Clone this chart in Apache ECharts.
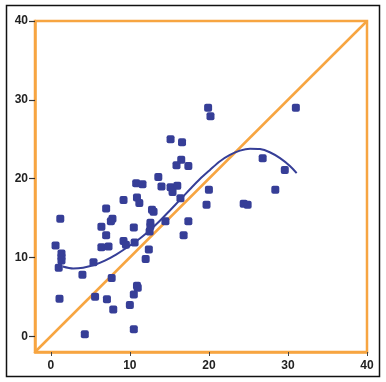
<!DOCTYPE html>
<html><head><meta charset="utf-8">
<script src="https://cdn.jsdelivr.net/npm/echarts@6/dist/echarts.min.js"></script>
<style>html,body{margin:0;padding:0;background:#fff}#c{width:386px;height:382px}</style>
</head><body><div id="c"></div>
<script>
var pointX = [19.9,20.2,31.0,15.15,16.6,26.8,29.6,16.5,15.9,17.4,13.6,10.8,11.6,14.0,15.15,16.0,15.4,20.0,28.4,9.2,10.9,11.2,16.4,19.7,24.4,24.9,7.0,12.8,13.0,1.2,7.8,7.6,14.5,17.4,6.4,12.6,12.6,10.5,7.0,12.5,16.8,0.6,6.4,7.3,9.2,9.5,10.6,12.4,1.35,1.35,1.35,1.0,12.0,5.4,4.0,7.7,1.1,5.6,7.1,7.9,10.0,10.5,10.9,11.0,10.5,4.3];
var pointY = [29.0,27.9,29.0,25.0,24.6,22.6,21.1,22.4,21.7,21.6,20.2,19.4,19.3,19.0,18.9,19.1,18.3,18.6,18.6,17.3,17.6,16.9,17.5,16.7,16.8,16.7,16.2,16.05,15.8,14.9,14.9,14.6,14.6,14.6,13.9,14.4,14.0,13.8,12.8,13.3,12.8,11.5,11.3,11.4,12.1,11.6,11.9,11.0,10.5,10.05,9.6,8.7,9.8,9.4,7.8,7.4,4.75,5.0,4.7,3.4,3.95,5.3,6.4,6.15,0.9,0.25];
var curveX = [1.5,2.83,4.09,5.36,6.84,8.31,9.79,11.27,12.53,13.8,15.06,16.33,17.6,18.86,20.13,21.4,22.66,23.92,25.2,26.46,27.7,29.0,30.25,31.1];
var curveY = [8.85,8.6,8.7,9.0,9.6,10.4,11.35,12.4,13.45,14.65,15.95,17.3,18.65,19.95,21.1,22.2,23.0,23.55,23.8,23.75,23.35,22.6,21.6,20.7];
var diagX = [-2,40];
var diagY = [-2,40];
var xTicks = [0,10,20,30,40];
var yTicks = [0,10,20,30,40];

var orange = '#f7a541', blue = '#363e97';
function zip(a,b){return a.map(function(v,i){return [v,b[i]];});}
var chart = echarts.init(document.getElementById('c'), null, {renderer:'canvas'});
chart.setOption({
  animation:false,
  grid:{left:35,right:19,top:21,bottom:30,show:true,borderColor:orange,borderWidth:2.5,backgroundColor:'transparent'},
  graphic:[{type:'rect',shape:{x:6.5,y:5.5,width:373,height:371},style:{fill:'none',stroke:'#111',lineWidth:1.5},z:-1}],
  xAxis:{type:'value',min:-2,max:40,interval:2,
    axisLine:{show:true,onZero:false,lineStyle:{color:orange,width:2.5}},
    splitLine:{show:false},
    axisTick:{show:true,length:4,lineStyle:{color:'#444'},customValues:xTicks},
    axisLabel:{customValues:xTicks,color:'#222',fontWeight:'bold',fontSize:12,fontFamily:'Liberation Sans',margin:8}
  },
  yAxis:{type:'value',min:-2,max:40,interval:2,
    axisLine:{show:true,onZero:false,lineStyle:{color:orange,width:2.5}},
    splitLine:{show:false},
    axisTick:{show:true,length:6,lineStyle:{color:'#333',width:1.2},customValues:yTicks},
    axisLabel:{customValues:yTicks,color:'#222',fontWeight:'bold',fontSize:12,fontFamily:'Liberation Sans',margin:7}
  },
  series:[
    {type:'line',data:zip(diagX,diagY),symbol:'none',lineStyle:{color:orange,width:2.5},z:1},
    {type:'scatter',data:zip(pointX,pointY),symbol:'roundRect',symbolSize:8,itemStyle:{color:blue,opacity:1},z:3},
    {type:'line',data:zip(curveX,curveY),smooth:0.3,symbol:'none',lineStyle:{color:blue,width:2},z:2}
  ]
});
</script></body></html>
